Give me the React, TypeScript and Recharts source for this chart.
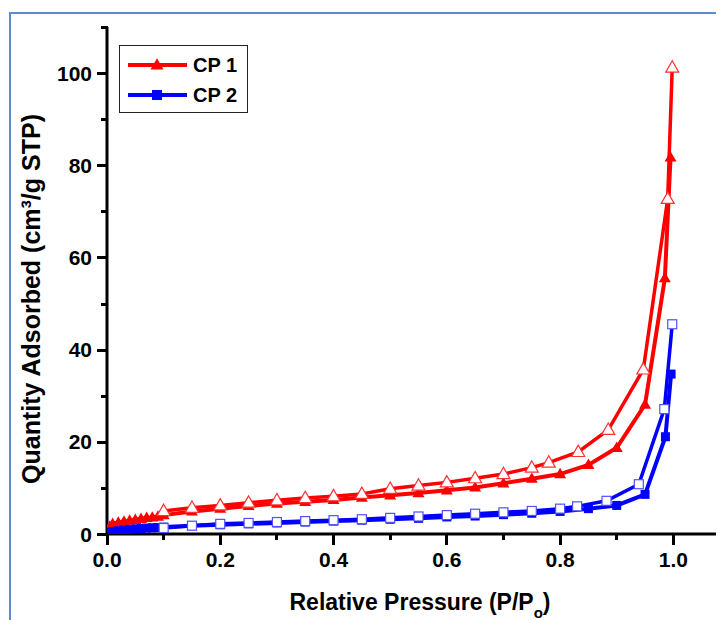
import React from 'react';
import { LineChart, Line, XAxis, YAxis } from 'recharts';

// CP 1 adsorption branch (filled triangles)
const cp1AdsP = [0.001, 0.005, 0.01, 0.02, 0.03, 0.04, 0.05, 0.06, 0.07, 0.08, 0.09, 0.1, 0.15, 0.2, 0.25, 0.3, 0.35, 0.4, 0.45, 0.5, 0.55, 0.6, 0.65, 0.7, 0.75, 0.8, 0.85, 0.9, 0.95, 0.985, 0.995];
const cp1AdsQ = [0.8, 1.6, 2.2, 2.5, 2.7, 2.9, 3.1, 3.3, 3.5, 3.6, 3.8, 4.1, 4.9, 5.5, 6.1, 6.6, 7.0, 7.4, 7.9, 8.4, 8.9, 9.5, 10.1, 11.0, 12.0, 13.0, 15.0, 18.7, 28.1, 55.5, 81.7];

// CP 1 desorption branch (open triangles)
const cp1DesP = [0.998, 0.99, 0.947, 0.885, 0.832, 0.78, 0.75, 0.7, 0.65, 0.6, 0.55, 0.5, 0.45, 0.4, 0.35, 0.3, 0.25, 0.2, 0.15, 0.1];
const cp1DesQ = [101.2, 72.7, 35.7, 22.6, 17.8, 15.5, 14.4, 13.0, 12.1, 11.2, 10.5, 9.8, 8.7, 8.2, 7.8, 7.3, 6.8, 6.2, 5.7, 5.0];

// CP 2 adsorption branch (filled squares)
const cp2AdsP = [0.001, 0.005, 0.01, 0.02, 0.03, 0.04, 0.05, 0.06, 0.07, 0.08, 0.09, 0.1, 0.15, 0.2, 0.25, 0.3, 0.35, 0.4, 0.45, 0.5, 0.55, 0.6, 0.65, 0.7, 0.75, 0.8, 0.85, 0.9, 0.95, 0.986, 0.996];
const cp2AdsQ = [0.1, 0.3, 0.5, 0.7, 0.85, 1.0, 1.1, 1.2, 1.3, 1.35, 1.4, 1.5, 1.8, 2.0, 2.2, 2.4, 2.6, 2.8, 3.0, 3.2, 3.4, 3.7, 3.9, 4.2, 4.5, 4.9, 5.5, 6.2, 8.6, 21.1, 34.7];

// CP 2 desorption branch (open squares)
const cp2DesP = [0.998, 0.984, 0.939, 0.882, 0.83, 0.8, 0.75, 0.7, 0.65, 0.6, 0.55, 0.5, 0.45, 0.4, 0.35, 0.3, 0.25, 0.2, 0.15, 0.1];
const cp2DesQ = [45.5, 27.1, 10.8, 7.2, 6.0, 5.5, 5.0, 4.7, 4.4, 4.1, 3.8, 3.5, 3.2, 3.0, 2.8, 2.6, 2.4, 2.2, 1.8, 1.3];

const xTicks = [0, 0.1, 0.2, 0.3, 0.4, 0.5, 0.6, 0.7, 0.8, 0.9, 1.0, 1.1];
const yTicks = [0, 10, 20, 30, 40, 50, 60, 70, 80, 90, 100, 110];

const legendNames = ['CP 1', 'CP 2'];

const zip = (p: number[], q: number[]) => p.map((x, i) => ({ x, y: q[i] }));

const FONT = '"Liberation Sans", Arial, Helvetica, sans-serif';
const RED = '#ff0000';
const BLUE = '#0000ff';

const Triangle = ({ cx, cy, filled, size = 12 }: any) => {
  const h = size * 0.87;
  const pts = `${cx},${cy - h * 0.6} ${cx - size / 2},${cy + h * 0.4} ${cx + size / 2},${cy + h * 0.4}`;
  return filled ? (
    <polygon points={pts} fill={RED} stroke="none" />
  ) : (
    <polygon points={pts} fill="#fff" stroke="#ff3030" strokeWidth={1.2} />
  );
};

const Square = ({ cx, cy, filled, size = 9 }: any) =>
  filled ? (
    <rect x={cx - size / 2} y={cy - size / 2} width={size} height={size} fill={BLUE} />
  ) : (
    <rect x={cx - size / 2} y={cy - size / 2} width={size} height={size} fill="#fff" stroke="#5050ff" strokeWidth={1.2} />
  );

const XTick = ({ x, y, payload }: any) => {
  const major = Math.round(payload.value * 10) % 2 === 0;
  return (
    <g>
      <line x1={x} x2={x} y1={y} y2={y + (major ? 11 : 6)} stroke="#000" strokeWidth={3} shapeRendering="crispEdges" />
      {major && (
        <text x={x} y={y + 25} textAnchor="middle" dominantBaseline="central" fontFamily={FONT} fontWeight="bold" fontSize={21} fill="#000">
          {payload.value.toFixed(1)}
        </text>
      )}
    </g>
  );
};

const YTick = ({ x, y, payload }: any) => {
  const major = payload.value % 20 === 0;
  const yy = Math.round(y);
  return (
    <g>
      <line x1={x + 1} x2={x - (major ? 10 : 6)} y1={yy} y2={yy} stroke="#000" strokeWidth={3} shapeRendering="crispEdges" />
      {major && (
        <text x={x - 15} y={y} textAnchor="end" dominantBaseline="central" fontFamily={FONT} fontWeight="bold" fontSize={21} fill="#000">
          {payload.value}
        </text>
      )}
    </g>
  );
};

const App: React.FC = () => {
  return (
    <div style={{ position: 'relative', width: 716, height: 612, overflow: 'hidden', background: '#fff' }}>
      <div
        style={{
          position: 'absolute',
          left: 1,
          top: 4,
          width: 800,
          height: 800,
          borderLeft: '2px solid #5a8ad2',
          borderTop: '2px solid #5a8ad2',
        }}
      />
      <div style={{ position: 'absolute', left: 0, top: 0 }}>
        <LineChart width={722} height={612} margin={{ top: 19, right: 0, bottom: 46, left: 0 }}>
          <XAxis
            dataKey="x"
            type="number"
            domain={[0, 1.1]}
            ticks={xTicks}
            interval={0}
            allowDataOverflow
            tickSize={0}
            tickMargin={0}
            tickLine={false}
            axisLine={{ stroke: '#000', strokeWidth: 3 }}
            tick={(p: any) => <XTick {...p} />}
            height={40}
          />
          <YAxis
            dataKey="y"
            type="number"
            domain={[0, 110]}
            ticks={yTicks}
            interval={0}
            allowDataOverflow
            tickSize={0}
            tickMargin={0}
            tickLine={false}
            axisLine={{ stroke: '#000', strokeWidth: 3 }}
            tick={(p: any) => <YTick {...p} />}
            width={99}
          />
          <Line
            data={zip(cp1AdsP, cp1AdsQ)}
            dataKey="y"
            type="linear"
            stroke={RED}
            strokeWidth={4}
            isAnimationActive={false}
            activeDot={false}
            dot={(p: any) => <Triangle key={`a1-${p.index}`} cx={p.cx} cy={p.cy} filled />}
          />
          <Line
            data={zip(cp1DesP, cp1DesQ)}
            dataKey="y"
            type="linear"
            stroke={RED}
            strokeWidth={3.5}
            isAnimationActive={false}
            activeDot={false}
            dot={(p: any) => <Triangle key={`d1-${p.index}`} cx={p.cx} cy={p.cy} size={13} />}
          />
          <Line
            data={zip(cp2AdsP, cp2AdsQ)}
            dataKey="y"
            type="linear"
            stroke={BLUE}
            strokeWidth={4}
            isAnimationActive={false}
            activeDot={false}
            dot={(p: any) => <Square key={`a2-${p.index}`} cx={p.cx} cy={p.cy} filled />}
          />
          <Line
            data={zip(cp2DesP, cp2DesQ)}
            dataKey="y"
            type="linear"
            stroke={BLUE}
            strokeWidth={3.5}
            isAnimationActive={false}
            activeDot={false}
            dot={(p: any) => <Square key={`d2-${p.index}`} cx={p.cx} cy={p.cy} />}
          />
        </LineChart>
      </div>
      <svg width={716} height={612} style={{ position: 'absolute', left: 0, top: 0, pointerEvents: 'none' }}>
        <text x={23} y={291} transform="rotate(-90 23 291)" textAnchor="middle" dominantBaseline="central" fontFamily={FONT} fontWeight="bold" fontSize={25} fill="#000">
          Quantity Adsorbed (cm³/g STP)
        </text>
        <text x={412} y={602} textAnchor="middle" fontFamily={FONT} fontWeight="bold" fontSize={23} fill="#000">
          Relative Pressure (P/P<tspan fontSize={15} dy={8}>o</tspan>
          <tspan dy={-8}>)</tspan>
        </text>
      </svg>
      <div
        style={{
          position: 'absolute',
          left: 111,
          top: 37,
          width: 127,
          height: 66,
          border: '1.5px solid #222',
          background: '#fff',
        }}
      >
        <svg width={127} height={66}>
          {legendNames.map((name, i) => {
            const cy = 19 + i * 30;
            const color = i === 0 ? RED : BLUE;
            return (
              <g key={name}>
                <line x1={8} x2={67} y1={cy} y2={cy} stroke={color} strokeWidth={4} />
                {i === 0 ? <Triangle cx={37} cy={cy} filled size={13} /> : <Square cx={37} cy={cy} filled size={10} />}
                <text x={73} y={cy} dominantBaseline="central" fontFamily={FONT} fontWeight="bold" fontSize={20} fill="#000">
                  {name}
                </text>
              </g>
            );
          })}
        </svg>
      </div>
    </div>
  );
};

export default App;
